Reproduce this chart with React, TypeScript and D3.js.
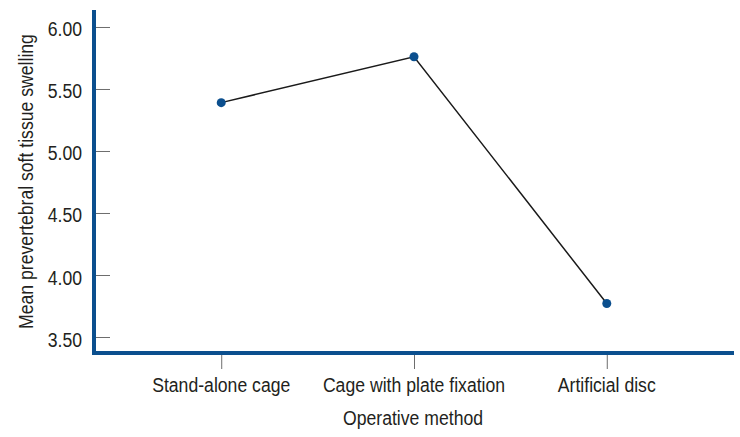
import React, { useEffect, useRef } from 'react';
import * as d3 from 'd3';

// Values
const methods = ['Stand-alone cage', 'Cage with plate fixation', 'Artificial disc'];
const swelling = [5.39, 5.76, 3.77];
const yTicks = [3.5, 4.0, 4.5, 5.0, 5.5, 6.0];

const FONT = '"Liberation Sans", Arial, sans-serif';
const SQUEEZE = 0.84; // condensed look, like Helvetica Condensed
const AXIS_BLUE = '#0b4f8e';
const TEXT = '#231f20';

function LineChart() {
  const chartRef = useRef<SVGSVGElement>(null);

  useEffect(() => {
    const width = 740;
    const height = 437;
    const left = 94;
    const right = 734;
    const top = 10;
    const bottom = 353;

    const svg = d3.select(chartRef.current);
    svg.selectAll('*').remove();

    const x = d3.scalePoint<string>()
      .domain(methods)
      .range([left, right])
      .padding(0.66);

    const y = d3.scaleLinear()
      .domain([3.371, 6.137])
      .range([bottom, top]);

    // Y ticks (pointing inward) and labels
    const yAxis = svg.append('g')
      .attr('transform', `translate(${left},0)`)
      .call(d3.axisRight(y).tickValues(yTicks).tickSize(16).tickFormat(() => ''));
    yAxis.select('.domain').remove();
    yAxis.selectAll('.tick line').attr('stroke', '#6d6d6d').attr('stroke-width', 1);

    svg.append('g')
      .selectAll('text')
      .data(yTicks)
      .enter()
      .append('text')
      .attr('transform', d => `translate(82,${y(d) + 9.5}) scale(${SQUEEZE},1)`)
      .attr('text-anchor', 'end')
      .attr('fill', TEXT)
      .style('font-family', FONT)
      .style('font-size', '21px')
      .text(d => d3.format('.2f')(d));

    // X ticks (pointing down) and labels
    const xAxis = svg.append('g')
      .attr('transform', `translate(0,${bottom})`)
      .call(d3.axisBottom(x).tickSize(16).tickFormat(() => ''));
    xAxis.select('.domain').remove();
    xAxis.selectAll('.tick line').attr('stroke', '#6d6d6d').attr('stroke-width', 1);

    svg.append('g')
      .selectAll('text')
      .data(methods)
      .enter()
      .append('text')
      .attr('transform', d => `translate(${x(d)},392) scale(${SQUEEZE},1)`)
      .attr('text-anchor', 'middle')
      .attr('fill', TEXT)
      .style('font-family', FONT)
      .style('font-size', '21px')
      .text(d => d);

    // Axis lines
    svg.append('line')
      .attr('x1', left).attr('x2', left)
      .attr('y1', top).attr('y2', bottom + 2)
      .attr('stroke', AXIS_BLUE).attr('stroke-width', 4);
    svg.append('line')
      .attr('x1', left - 2).attr('x2', right)
      .attr('y1', bottom).attr('y2', bottom)
      .attr('stroke', AXIS_BLUE).attr('stroke-width', 4);

    // Axis titles
    svg.append('text')
      .attr('transform', `translate(${(left + right) / 2 - 1},425) scale(${SQUEEZE},1)`)
      .attr('text-anchor', 'middle')
      .attr('fill', TEXT)
      .style('font-family', FONT)
      .style('font-size', '21px')
      .text('Operative method');

    svg.append('text')
      .attr('transform', `translate(33,${(top + bottom) / 2}) rotate(-90) scale(${SQUEEZE},1)`)
      .attr('text-anchor', 'middle')
      .attr('fill', TEXT)
      .style('font-family', FONT)
      .style('font-size', '21px')
      .text('Mean prevertebral soft tissue swelling');

    // Line and points
    const line = d3.line<number>()
      .x((d, i) => x(methods[i]) as number)
      .y(d => y(d));

    svg.append('path')
      .datum(swelling)
      .attr('d', line)
      .attr('fill', 'none')
      .attr('stroke', '#1a1a1a')
      .attr('stroke-width', 1.5);

    svg.selectAll('circle')
      .data(swelling)
      .enter()
      .append('circle')
      .attr('cx', (d, i) => x(methods[i]) as number)
      .attr('cy', d => y(d))
      .attr('r', 4.5)
      .attr('fill', AXIS_BLUE);

    svg.attr('width', width).attr('height', height);
  }, []);

  return (
    <svg
      ref={chartRef}
      width={740}
      height={437}
      style={{ position: 'absolute', left: 0, top: 0, background: '#fff' }}
    />
  );
}

export default function App() {
  return <LineChart />;
}
